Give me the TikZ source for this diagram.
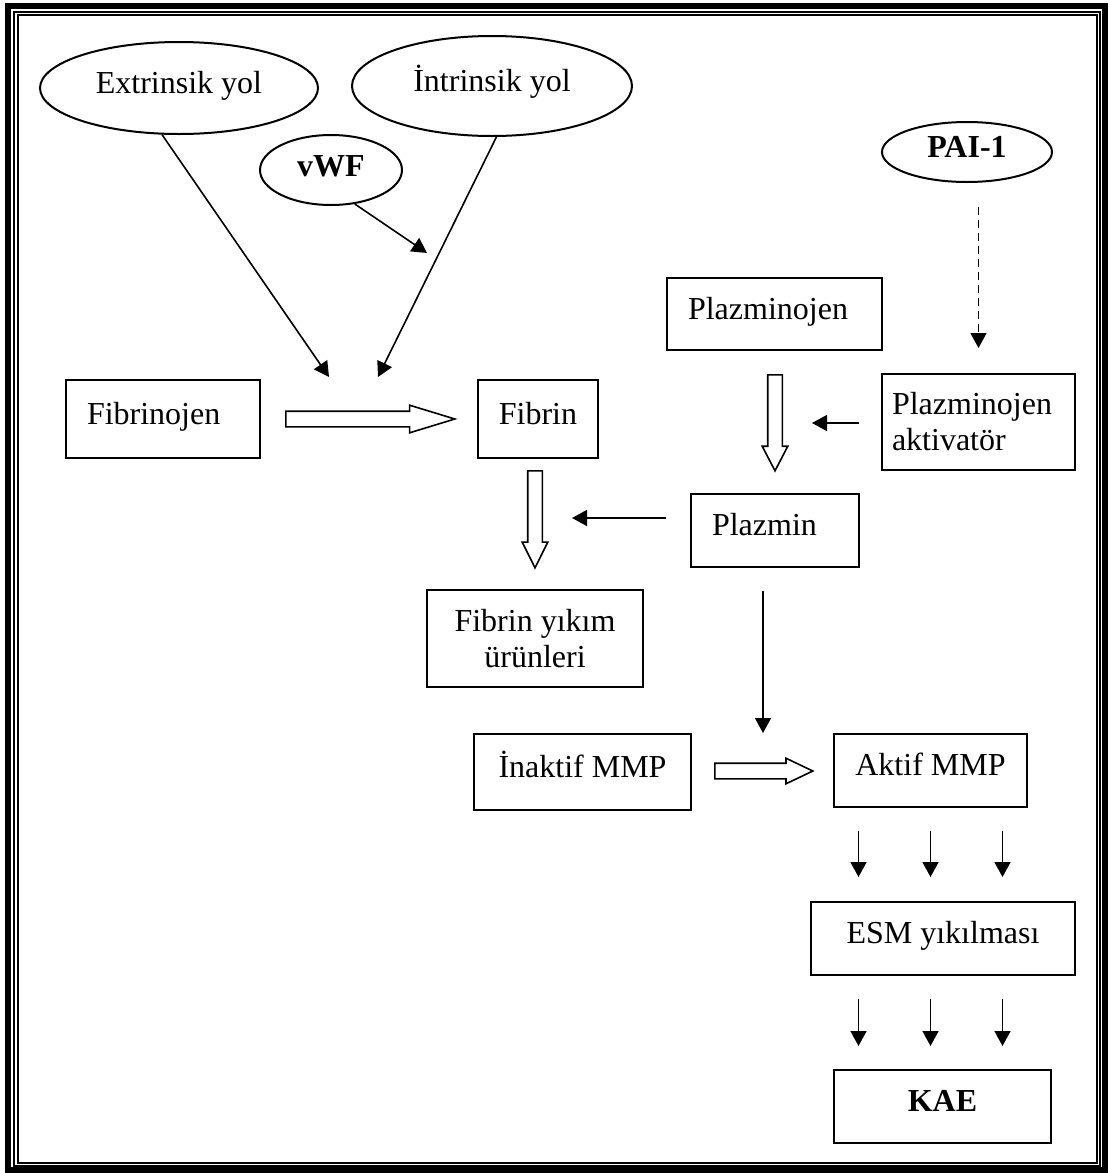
\documentclass[tikz,border=0pt]{standalone}
\usepackage{fontspec}
\setmainfont{Liberation Serif}
\usetikzlibrary{shapes.geometric, shapes.arrows, arrows.meta, positioning}
\tikzset{
    box/.style={rectangle, draw, line width=1pt, inner sep=0pt, align=center},
    lbox/.style={box, align=left, inner xsep=10.5pt},
    oval/.style={ellipse, draw, line width=1pt, inner sep=0pt},
    tx/.style={text height=0.7em, text depth=0.2em},
    hollow/.style={single arrow, draw, fill=white, line width=0.8pt, anchor=tail},
    arrow/.style={-{Triangle[length=7.5pt,width=8pt]}, line width=0.8pt},
    darrow/.style={-{Triangle[length=7.5pt,width=8pt]}, line width=0.8pt, dash pattern=on 4pt off 2.5pt},
}

\begin{document}
\begin{tikzpicture}[x=0.5pt, y=-0.5pt, font=\fontsize{16pt}{18pt}\selectfont]
    \useasboundingbox (0,0) rectangle (1109,1173);
    % frame
    \draw[line width=3pt] (8,6) rectangle (1105,1170);
    \draw[line width=0.7pt] (14,12) rectangle (1100,1166);
    \draw[line width=0.7pt] (18,15) rectangle (1097,1163);

    % coagulation pathways
    \node[oval, tx, minimum width=139pt, minimum height=46pt] (extrinsik) at (179,88) {Extrinsik yol};
    \node[oval, tx, minimum width=140pt, minimum height=50pt] (intrinsik) at (492,86) {İntrinsik yol};
    \node[oval, text height=0.7em, text depth=0.1em, minimum width=71pt, minimum height=35pt] (vwf) at (331,170) {\bfseries vWF};
    \node[oval, tx, minimum width=85pt, minimum height=30pt] (pai) at (967,152) {\bfseries PAI-1};

    % boxes
    \node[lbox, tx, text width=76pt, minimum height=39pt] (fibrinojen) at (163,419) {Fibrinojen};
    \node[box, tx, minimum width=60pt, minimum height=39pt] (fibrin) at (538,419) {Fibrin};
    \node[lbox, tx, text width=86.5pt, minimum height=36pt] (plazminojen) at (774.5,314) {Plazminojen};
    \node[lbox, inner xsep=5pt, text width=86.5pt, minimum height=48pt] (aktivator) at (978.5,422) {Plazminojen\\aktivatör};
    \node[lbox, tx, text width=63pt, minimum height=36.5pt] (plazmin) at (775,530.5) {Plazmin};
    \node[box, minimum width=108pt, minimum height=48.5pt] (yikim) at (535,638.5) {Fibrin yıkım\\ürünleri};
    \node[box, tx, minimum width=108.5pt, minimum height=38pt] (inaktif) at (582.5,772) {İnaktif MMP};
    \node[box, tx, minimum width=96.5pt, minimum height=36.5pt] (aktif) at (930.5,770.5) {Aktif MMP};
    \node[box, tx, minimum width=132pt, minimum height=36.5pt] (esm) at (943,938.5) {ESM yıkılması};
    \node[box, tx, minimum width=108.5pt, minimum height=36.5pt] (kae) at (942.5,1106.5) {\bfseries KAE};

    % hollow conversion arrows
    \node[hollow, inner sep=3.5pt, minimum height=84.5pt, minimum width=13pt, single arrow head extend=3pt, single arrow tip angle=34] (fibconv) at (285,419) {};
    \node[hollow, inner sep=3.25pt, shape border rotate=270, minimum height=48.5pt, minimum width=12pt, single arrow head extend=2.75pt, single arrow tip angle=53] (fibdeg) at (535,470) {};
    \node[hollow, inner sep=3.25pt, shape border rotate=270, minimum height=48pt, minimum width=12pt, single arrow head extend=2.75pt, single arrow tip angle=55] (plgconv) at (775,374) {};
    \node[hollow, inner sep=3.5pt, minimum height=49pt, minimum width=12pt, single arrow head extend=2.5pt, single arrow tip angle=51] (mmpconv) at (714,771) {};

    % arrows
    \coordinate (exend) at (329,377);
    \coordinate (inend) at (378,377);
    \coordinate (vwfend) at (427,253);
    \coordinate (akend) at (812,423);
    \coordinate (plend) at (572,518);
    \coordinate (mmpend) at (763,733);
    \draw[arrow] (extrinsik.250) -- (exend);
    \draw[arrow] (intrinsik.275) -- (inend);
    \draw[arrow] (vwf.305) -- (vwfend);
    \draw[darrow, shorten <=12pt, shorten >=12.5pt] (pai.south -| aktivator) -- (aktivator.north);
    \draw[arrow, shorten <=11pt] (aktivator.west |- akend) -- (akend);
    \draw[arrow, shorten <=12pt] (plazmin.west |- plend) -- (plend);
    \draw[arrow, shorten <=11.5pt] (plazmin.south -| mmpend) -- (mmpend);
    \foreach \dx in {-36pt,0pt,36pt} {
        \coordinate (col) at ([xshift=\dx]aktif.south);
        \draw[arrow, shorten <=11.5pt, shorten >=12pt] (col) -- (col |- esm.north);
        \draw[arrow, shorten <=11.5pt, shorten >=11.5pt] (col |- esm.south) -- (col |- kae.north);
    }
\end{tikzpicture}
\end{document}
